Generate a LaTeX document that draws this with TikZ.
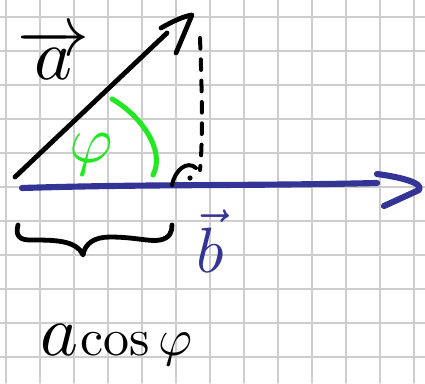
\documentclass[tikz,border=0pt]{standalone}
\usetikzlibrary{arrows.meta}
\definecolor{gridgray}{RGB}{205,205,205}
\definecolor{inkblue}{RGB}{52,52,150}
\definecolor{inkgreen}{RGB}{34,232,34}
\begin{document}
\begin{tikzpicture}[x=0.75pt,y=-0.75pt,line cap=round,line join=round,
  gridline/.style={draw=gridgray,line width=1.4pt},
  blackink/.style={draw=black,line width=3.6pt},
  blueink/.style={draw=inkblue,line width=4.6pt},
  greenink/.style={draw=inkgreen,line width=3.8pt},
  dashink/.style={draw=black,line width=3pt,dash pattern=on 8pt off 8pt},
  lbl/.style={inner sep=0pt,anchor=base}]
\useasboundingbox (0,0) rectangle (425,383);
\fill[white] (0,0) rectangle (425,383);
\foreach \x in {6,40,...,414} \draw[gridline] (\x,0) -- (\x,383);
\foreach \y in {17,51,...,357} \draw[gridline] (0,\y) -- (425,\y);
% named points
\coordinate (aS) at (15,177);
\coordinate (aE) at (167,33);
\coordinate (aT) at (192,15);
\coordinate (aB1) at (161,28);
\coordinate (aB2) at (176,53);
\coordinate (bS) at (22,188);
\coordinate (bE) at (377,183);
\coordinate (bT) at (419,190);
\coordinate (bB1) at (377,174);
\coordinate (bB2) at (384,206);
\coordinate (dTop) at (200,38);
\coordinate (dBot) at (200,170);
\coordinate (gS) at (112,99);
\coordinate (gE) at (153,175);
% vector a
\draw[blackink] (aS) -- (aE);
\draw[blackink] (aB1) .. controls (175,20) and (185,16) .. (aT) -- (aB2);
% vector b
\draw[blueink] (bS) .. controls (150,184) and (250,186) .. (bE);
\draw[blueink] (bB1) .. controls (400,177) and (424,183) .. (bT) -- (bB2);
% dashed projection
\draw[dashink] (dTop) .. controls (202,90) and (203,140) .. (dBot);
% right angle mark
\draw[blackink,line width=3pt] (172,185) .. controls (175,170) and (187,160) .. (196,168);
\fill (190,178) circle (2.6);
% angle arc
\draw[greenink] (gS) .. controls (140,115) and (166,150) .. (gE);
% brace
\draw[blackink] (18,225) .. controls (15,236) and (20,240) .. (30,240)
  .. controls (55,240) and (76,240) .. (83,255)
  .. controls (85,243) and (95,237) .. (110,237)
  .. controls (135,237) and (150,242) .. (160,240)
  .. controls (170,238) and (172,232) .. (172,225);
% labels
\node[lbl] (la) at (54,79) {\scalebox{5.4}{$\overrightarrow{a}$}};
\node[lbl,text=inkgreen] (phi) at (91,162) {\scalebox{5}{$\varphi$}};
\node[lbl,text=inkblue] (lb) at (210,272) {\scalebox{4.8}{$\vec{b}$}};
\node[inner sep=0pt,anchor=base west] (acos) at (40,355) {\scalebox{5.4}{$a$}\,\scalebox{3.9}{$\cos\varphi$}};
\end{tikzpicture}
\end{document}
